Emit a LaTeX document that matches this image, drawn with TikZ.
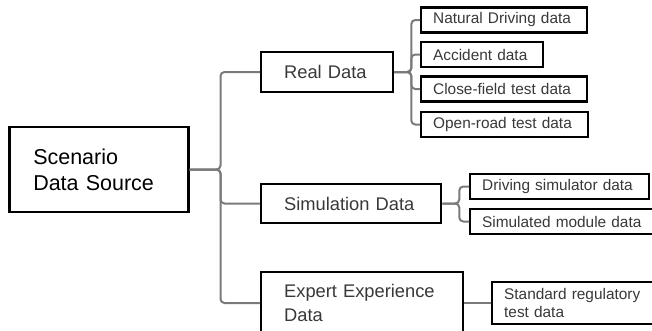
\documentclass[tikz,border=0pt]{standalone}
\usepackage{fontspec}
\setmainfont{Liberation Sans}
\usetikzlibrary{positioning}

\begin{document}
\begin{tikzpicture}[x=1pt,y=-1pt,
    rootbox/.style={draw,line width=2.5pt,anchor=west,align=left,inner xsep=24pt,
        minimum height=85pt,font=\fontsize{21.5}{25.8}\selectfont},
    catbox/.style={draw,line width=2.3pt,anchor=west,align=left,inner xsep=23pt,
        text=black!78,font=\fontsize{18.3}{24}\selectfont},
    leafbox/.style={draw,line width=2.3pt,anchor=west,align=left,inner xsep=12pt,
        minimum height=25pt,text=black!78,font=\fontsize{15.4}{18.5}\selectfont},
    link/.style={draw=black!52,line width=2pt,rounded corners=4pt}]
    \useasboundingbox (0,0) rectangle (652,330);
    \clip (0,0) rectangle (652,330);

    % Source
    \node[rootbox,text width=131pt] (root) at (8,169.5) {Scenario\\Data Source};

    % Data categories
    \node[catbox,text width=86pt,minimum height=40pt] (real) at (260,72) {Real Data};
    \node[catbox,text width=134pt,minimum height=39pt] (sim) at (260,203.5) {Simulation Data};
    \node[catbox,text width=156pt,minimum height=62pt] (expert) at (260,303) {Expert Experience\\Data};

    % Real data kinds
    \node[leafbox,text width=142pt] (nat) at (420,20) {Natural Driving data};
    \node[leafbox,text width=98pt] (acc) at (420,54.5) {Accident data};
    \node[leafbox,text width=142pt] (close) at (420,89) {Close-field test data};
    \node[leafbox,text width=143pt] (open) at (420,124.5) {Open-road test data};

    % Simulation data kinds
    \node[leafbox,text width=155pt] (drv) at (469,186.5) {Driving simulator data};
    \node[leafbox,text width=171pt] (simmod) at (469,221.5) {Simulated module data};

    % Expert data kinds
    \node[leafbox,text width=151pt,minimum height=42pt] (std) at (491,303) {Standard regulatory\\test data};

    % Links
    \draw[link] (root.east) -- ++(31,0) |- (real.west);
    \draw[link] (root.east) -- ++(31,0) |- (sim.west);
    \draw[link] (root.east) -- ++(31,0) |- (expert.west);
    \draw[link] (real.east) -- ++(17,0) |- (nat.west);
    \draw[link] (real.east) -- ++(17,0) |- (acc.west);
    \draw[link] (real.east) -- ++(17,0) |- (close.west);
    \draw[link] (real.east) -- ++(17,0) |- (open.west);
    \draw[link] (sim.east) -- ++(17,0) |- (drv.west);
    \draw[link] (sim.east) -- ++(17,0) |- (simmod.west);
    \draw[link] (expert.east) -- (std.west);
\end{tikzpicture}
\end{document}
